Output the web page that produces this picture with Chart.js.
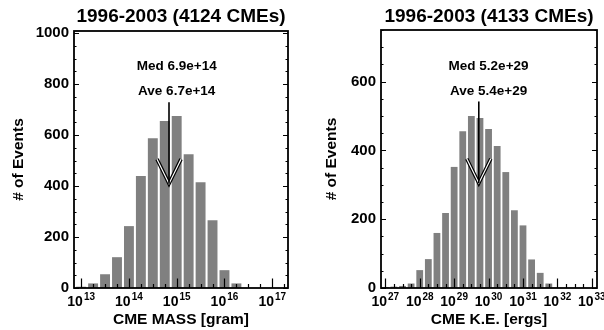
<!DOCTYPE html>
<html>
<head>
<meta charset="utf-8">
<script src="https://cdn.jsdelivr.net/npm/chart.js@4.4.1/dist/chart.umd.min.js"></script>
<style>
  body { margin: 0; background: #fff; width: 604px; height: 330px; position: relative; overflow: hidden; }
  canvas { position: absolute; top: 0; }
</style>
</head>
<body>
<canvas id="massChart" width="302" height="330" style="left:0"></canvas>
<canvas id="energyChart" width="302" height="330" style="left:302px"></canvas>
<script>
// histogram bins are log10 centres, 0.25 dex wide
const massBins = [13.0, 13.25, 13.5, 13.75, 14.0, 14.25, 14.5, 14.75, 15.0, 15.25, 15.5, 15.75, 16.0, 16.25]
const massCounts = [5, 18, 54, 121, 243, 440, 588, 656, 675, 525, 415, 266, 70, 18]
const massDecades = [13, 14, 15, 16, 17]
const massCountTicks = [0, 200, 400, 600, 800, 1000]
const massMedian = 6.9e14
const massAverage = 6.7e14

const energyBins = [27.0, 27.25, 27.5, 27.75, 28.0, 28.25, 28.5, 28.75, 29.0, 29.25,
                    29.5, 29.75, 30.0, 30.25, 30.5, 30.75, 31.0, 31.25, 31.5, 31.75]
const energyCounts = [3, 4, 6, 13, 52, 84, 160, 218, 352, 456, 500, 494, 462, 413, 337, 226, 182, 83, 44, 13]
const energyDecades = [27, 28, 29, 30, 31, 32, 33]
const energyCountTicks = [0, 200, 400, 600]
const energyMedian = 5.2e29
const energyAverage = 5.4e29

const FONT = "'Liberation Sans', Arial, Helvetica, sans-serif"

// IDL-style frame: box, inward ticks, superscript decade labels, median arrow
const idlFrame = {
  id: 'idlFrame',
  afterDatasetsDraw(chart, args, o) {
    const {ctx, chartArea: a, scales: {x, y}} = chart
    ctx.save()
    ctx.strokeStyle = '#000'
    ctx.lineWidth = 1.2
    ctx.beginPath()
    for (let v = 0; v <= y.max + 0.01; v += 50) {
      const py = Math.round(y.getPixelForValue(v)) + 0.5
      const len = o.yTicks.includes(v) ? 5 : 2.5
      ctx.moveTo(a.left, py); ctx.lineTo(a.left + len, py)
      ctx.moveTo(a.right, py); ctx.lineTo(a.right - len, py)
    }
    for (let v = Math.ceil(x.min * 4) / 4; v <= x.max; v += 0.25) {
      const px = Math.round(x.getPixelForValue(v)) + 0.5
      const len = o.decades.includes(v) ? 9.5 : 4
      ctx.moveTo(px, a.bottom); ctx.lineTo(px, a.bottom - len)
    }
    ctx.stroke()

    ctx.lineWidth = 1.8
    ctx.strokeRect(a.left, a.top, a.width, a.height)

    // decade labels 10^n
    ctx.fillStyle = '#000'
    ctx.textBaseline = 'middle'
    o.decades.forEach(d => {
      const px = x.getPixelForValue(d)
      ctx.font = 'bold 14px ' + FONT
      const w1 = ctx.measureText('10').width
      ctx.font = 'bold 10px ' + FONT
      const w2 = ctx.measureText(String(d)).width
      const x0 = px - (w1 + w2 + 1) / 2
      ctx.font = 'bold 14px ' + FONT
      ctx.textAlign = 'left'
      ctx.fillText('10', x0, a.bottom + 14)
      ctx.font = 'bold 10px ' + FONT
      ctx.fillText(String(d), x0 + w1 + 1, a.bottom + 9)
    })

    // median / average annotation
    const h = a.height
    const tx = x.getPixelForValue(o.labelX)
    ctx.font = 'bold 13.5px ' + FONT
    ctx.textAlign = 'center'
    ctx.fillText('Med ' + o.median.toExponential(1), tx, a.top + h * 0.139)
    ctx.fillText('Ave ' + o.average.toExponential(1), tx, a.top + h * 0.236)

    const mx = x.getPixelForValue(Math.log10(o.median))
    const top = a.top + h * 0.277
    const tip = a.top + h * 0.594
    ctx.lineJoin = 'miter'
    ctx.beginPath()
    ctx.moveTo(mx - 12, tip - 24.5); ctx.lineTo(mx, tip); ctx.lineTo(mx + 12, tip - 24.5)
    ctx.lineWidth = 3.6
    ctx.strokeStyle = '#000'
    ctx.stroke()
    ctx.lineWidth = 1.2
    ctx.strokeStyle = '#fff'
    ctx.stroke()
    ctx.beginPath()
    ctx.moveTo(mx, top); ctx.lineTo(mx, tip)
    ctx.lineWidth = 1.6
    ctx.strokeStyle = '#000'
    ctx.stroke()
    ctx.restore()
  }
}

function makeHist(id, cfg) {
  return new Chart(document.getElementById(id), {
    type: 'bar',
    data: {
      datasets: [{
        data: cfg.bins.map((b, i) => ({x: b, y: cfg.counts[i]})),
        backgroundColor: '#808080',
        categoryPercentage: 1,
        barPercentage: cfg.barPct
      }]
    },
    options: {
      responsive: false,
      animation: false,
      layout: { padding: { left: 0, right: cfg.padRight, top: 0, bottom: 0 } },
      plugins: {
        legend: { display: false },
        tooltip: { enabled: false },
        title: {
          display: true,
          text: cfg.title,
          fullSize: false,
          color: '#000',
          font: { family: FONT, size: 19, weight: 'bold' },
          padding: { top: 5.5, bottom: cfg.titleBottom }
        },
        idlFrame: {
          decades: cfg.decades,
          yTicks: cfg.yTicks,
          median: cfg.median,
          average: cfg.average,
          labelX: cfg.labelX
        }
      },
      scales: {
        x: {
          type: 'linear',
          min: cfg.xMin,
          max: cfg.xMax,
          offset: false,
          grid: { display: false, drawTicks: false },
          border: { display: false },
          ticks: { display: false },
          afterFit: s => { s.height = 42 },
          title: {
            display: true,
            text: cfg.xTitle,
            color: '#000',
            font: { family: FONT, size: 15.5, weight: 'bold' },
            padding: { top: 0, bottom: 1 }
          }
        },
        y: {
          min: 0,
          max: cfg.yMax,
          grid: { display: false, drawTicks: false },
          border: { display: false },
          afterBuildTicks: s => { s.ticks = cfg.yTicks.map(v => ({value: v})) },
          afterFit: s => { s.width = cfg.yWidth },
          ticks: {
            color: '#000',
            padding: 5,
            font: { family: FONT, size: 15, weight: 'bold' },
            callback: v => String(v)
          },
          title: {
            display: true,
            text: '# of Events',
            color: '#000',
            font: { family: FONT, size: 15.5, weight: 'bold' },
            padding: { top: cfg.yTitlePad, bottom: 0 }
          }
        }
      }
    },
    plugins: [idlFrame]
  })
}

makeHist('massChart', {
  bins: massBins, counts: massCounts, decades: massDecades, yTicks: massCountTicks,
  median: massMedian, average: massAverage, labelX: 15,
  title: '1996-2003 (4124 CMEs)', xTitle: 'CME MASS [gram]',
  xMin: 12.85, xMax: 17.33, yMax: 1009, barPct: 0.83,
  yWidth: 74, padRight: 14, titleBottom: 2.7, yTitlePad: 9
})

makeHist('energyChart', {
  bins: energyBins, counts: energyCounts, decades: energyDecades, yTicks: energyCountTicks,
  median: energyMedian, average: energyAverage, labelX: 30,
  title: '1996-2003 (4133 CMEs)', xTitle: 'CME K.E. [ergs]',
  xMin: 26.875, xMax: 33.15, yMax: 750, barPct: 0.79,
  yWidth: 79, padRight: 7, titleBottom: 1.7, yTitlePad: 20
})
</script>
</body>
</html>
